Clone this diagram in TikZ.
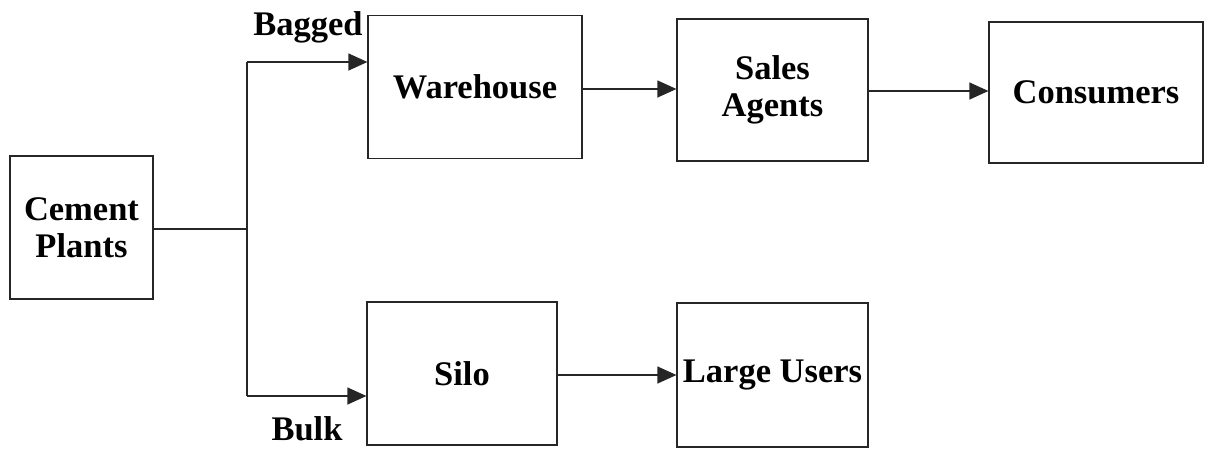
\documentclass[tikz,border=0pt]{standalone}
\usepackage{fontspec}
\setmainfont{Liberation Serif}
\usetikzlibrary{arrows.meta}
\begin{document}
\begin{tikzpicture}[x=1pt,y=-1pt,
  box/.style={draw=black!85, line width=1.2pt, inner sep=0pt, align=center,
    font=\fontsize{34.5}{37}\selectfont\bfseries},
  flow/.style={draw=black!85, line width=1.2pt},
  arr/.style={flow, -{Triangle[length=19pt,width=17pt]}},
  lbl/.style={font=\fontsize{34.5}{37}\selectfont\bfseries, inner sep=0pt, anchor=base}]
\useasboundingbox (0,0) rectangle (1206,450);

% boxes
\node[box, minimum width=143, minimum height=143] (cp) at (81.5,227.5) {Cement\\Plants};
\node[box, minimum width=214, minimum height=143] (wh) at (475,87) {Warehouse};
\node[box, minimum width=191, minimum height=142] (sa) at (772.5,90) {Sales\\Agents};
\node[box, minimum width=214, minimum height=141] (co) at (1096,92.5) {Consumers};
\node[box, minimum width=190, minimum height=143] (si) at (462,373.5) {Silo};
\node[box, minimum width=191, minimum height=144] (lu) at (772.5,375) {Large Users};

% branch points
\coordinate (j) at (247,229);
\coordinate (jt) at (247,62);
\coordinate (jb) at (247,396);
\coordinate (y1) at (0,89);
\coordinate (y2) at (0,91);
\coordinate (y3) at (0,375);

% connectors
\draw[flow] (cp.east |- j) -- (j);
\draw[flow] (jt) -- (jb);
\draw[arr] (jt) -- (wh.west |- jt);
\draw[arr] (jb) -- (si.west |- jb);
\draw[arr] (wh.east |- y1) -- (sa.west |- y1);
\draw[arr] (sa.east |- y2) -- (co.west |- y2);
\draw[arr] (si.east |- y3) -- (lu.west |- y3);

% branch labels
\node[lbl] (bag) at (308,35) {Bagged};
\node[lbl] (blk) at (307,440) {Bulk};
\end{tikzpicture}
\end{document}
